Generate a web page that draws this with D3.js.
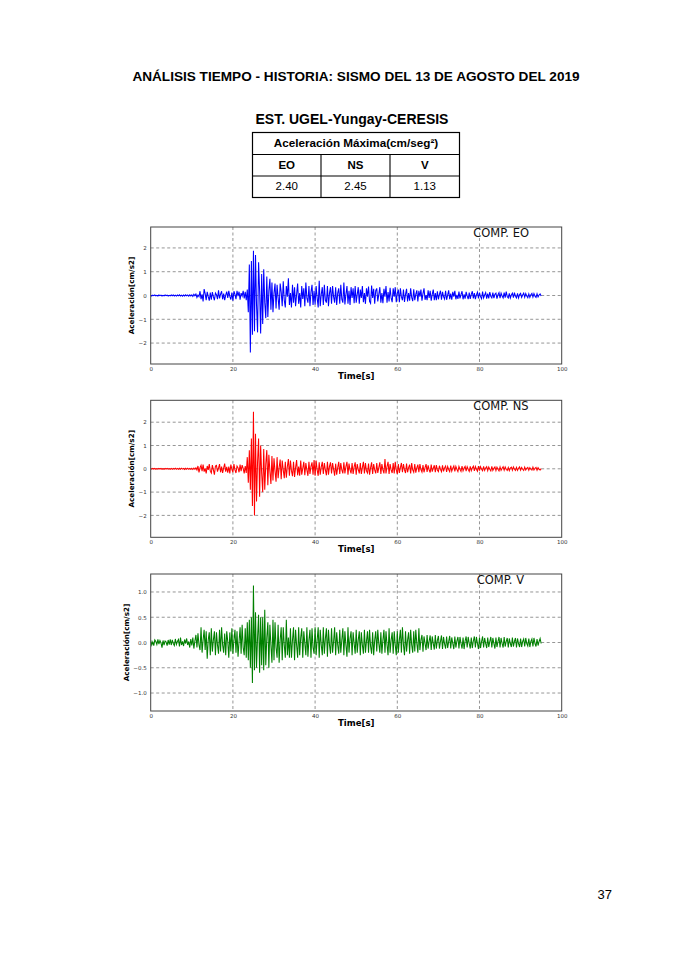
<!DOCTYPE html>
<head>
<meta charset="utf-8" />
<script src="https://d3js.org/d3.v7.min.js"></script>
<style>
    body {
        margin: 0;
        background: #fff;
    }
    svg { display: block; }
</style>
</head>

<body>
    <div id="pagina"></div>

    <script>
        // registro muestreado cada 0.25 s, de 0 a 95 s
        const dt = 0.25;
        const componentes = ["EO", "NS", "V"];
        const picos = ["2.40", "2.45", "1.13"];
        const etiquetas = ["COMP. EO", "COMP. NS", "COMP. V"];
        const colores = ["#0000ff", "#ff0000", "#008000"];
        const xTicks = [0, 20, 40, 60, 80, 100];
        const yTicksEO = [-2, -1, 0, 1, 2];
        const yTicksNS = [-2, -1, 0, 1, 2];
        const yTicksV = [-1.0, -0.5, 0.0, 0.5, 1.0];

        const acelEO = [
            0.01,-0.02,0.015,-0.01,0.02,-0.015,0.01,-0.02,0.02,-0.01,0.015,-0.02,0.01,-0.015,0.02,-0.01,0.015,-0.02,0.01,-0.015,
            0.02,-0.01,0.025,-0.02,0.015,-0.025,0.02,-0.015,0.03,-0.02,0.015,-0.03,0.02,-0.02,0.03,-0.015,0.02,-0.03,0.025,-0.02,
            0.03,-0.04,0.05,-0.01,0.06,-0.08,0.02,-0.05,0.18,-0.15,0.05,-0.25,0.27,0.08,-0.2,0.15,-0.05,-0.22,0.12,-0.18,
            0.14,-0.05,-0.2,0.1,0.03,-0.15,0.22,-0.12,0.06,0.18,-0.16,0.08,-0.2,0.02,0.16,-0.1,0.2,-0.04,-0.17,0.12,
            -0.22,0.18,0.05,-0.15,0.2,-0.03,0.16,-0.18,0.1,-0.02,0.2,-0.12,0.15,-0.2,0.25,-0.7,1.3,-2.40,1.45,-1.65,
            1.88,-1.5,1.7,-0.4,-1.55,1.4,0.2,-1.6,0.9,-1.2,1.1,-0.3,-0.95,0.8,-0.9,0.2,0.7,-0.6,0.55,-0.7,
            0.1,0.5,-0.55,0.45,-0.1,-0.6,0.5,0.15,-0.45,0.6,-0.2,-0.5,0.4,-0.05,0.72,-0.4,0.1,-0.5,0.45,-0.3,
            0.35,-0.45,0.05,0.5,-0.35,0.1,-0.5,0.4,-0.15,0.3,-0.45,0.55,-0.1,-0.3,0.4,-0.45,0.15,0.45,-0.4,0.2,
            -0.38,0.4,-0.1,-0.5,0.62,-0.45,0.05,0.35,-0.4,0.45,-0.2,-0.3,0.4,-0.45,0.1,0.35,-0.35,0.4,-0.05,-0.3,
            0.35,-0.4,0.1,0.3,-0.35,0.45,-0.15,-0.3,0.55,-0.38,0.05,0.4,-0.35,0.2,-0.4,0.35,-0.1,0.3,-0.32,0.4,
            -0.3,0.05,0.35,-0.35,0.25,-0.1,0.4,-0.28,0.1,-0.35,0.3,-0.05,0.38,-0.25,-0.33,0.42,-0.1,0.28,-0.35,0.2,
            0.3,-0.25,0.05,0.35,-0.3,0.1,-0.32,0.28,-0.05,0.4,-0.3,0.15,-0.25,0.32,-0.1,-0.28,0.3,-0.05,0.35,-0.28,
            0.1,0.25,-0.28,0.3,-0.05,-0.2,0.25,-0.27,0.05,0.28,-0.25,0.1,-0.22,0.3,-0.08,-0.24,0.26,-0.2,0.05,0.22,
            -0.25,0.2,-0.05,0.25,-0.22,0.08,0.3,-0.18,0.02,-0.2,0.22,-0.1,0.2,-0.22,0.05,0.25,-0.2,0.1,-0.2,0.18,
            -0.16,0.05,0.2,-0.18,0.15,-0.05,-0.15,0.2,-0.18,0.02,0.22,-0.15,0.08,-0.18,0.15,-0.05,0.2,-0.16,0.03,-0.14,
            0.16,-0.12,0.04,0.18,-0.16,0.05,-0.13,0.15,-0.02,-0.15,0.12,-0.14,0.05,0.18,-0.12,0.1,-0.15,0.03,0.14,-0.12,
            0.12,-0.05,-0.14,0.16,-0.1,0.02,0.12,-0.13,0.08,-0.12,0.14,-0.03,-0.1,0.12,-0.11,0.05,0.1,-0.13,0.03,0.12,
            -0.11,0.1,-0.02,-0.1,0.12,-0.09,0.16,-0.04,-0.1,0.09,-0.11,0.02,0.1,-0.09,0.12,-0.03,-0.1,0.09,-0.1,0.04,
            0.09,-0.08,0.02,0.1,-0.07,0.08,-0.02,-0.09,0.07,-0.08,0.03,0.09,-0.07,0.08,-0.03,-0.08,0.07,-0.06,0.02,0.07,
            -0.02
        ];

        const acelNS = [
            0.01,-0.015,0.02,-0.01,0.015,-0.02,0.01,-0.015,0.02,-0.01,0.015,-0.02,0.01,-0.02,0.015,-0.01,0.02,-0.015,0.01,-0.02,
            0.015,-0.02,0.02,-0.015,0.025,-0.02,0.015,-0.025,0.02,-0.02,0.025,-0.015,0.02,-0.025,0.02,-0.02,0.025,-0.02,0.015,-0.025,
            0.02,-0.03,0.03,-0.02,0.04,-0.05,0.12,-0.15,0.05,0.15,-0.1,0.18,-0.12,0.02,-0.2,0.12,-0.05,0.2,-0.1,-0.18,
            0.16,-0.05,-0.25,0.12,0.15,-0.12,0.03,0.2,-0.15,0.1,-0.18,0.04,0.22,-0.12,0.08,-0.17,0.1,-0.2,0.18,-0.02,
            -0.15,0.2,-0.05,-0.18,0.12,0.04,-0.15,0.18,-0.1,0.16,0.02,-0.2,0.12,-0.18,0.5,-0.6,0.8,-0.9,1.3,-1.6,
            2.45,-2.0,1.5,-1.4,0.3,1.3,-1.2,1.0,-0.2,-1.0,0.85,-0.9,0.2,0.8,-0.7,0.6,-0.1,-0.65,0.55,-0.5,
            0.45,-0.1,-0.55,0.5,-0.4,0.05,0.4,-0.45,0.35,-0.05,-0.4,0.3,-0.38,0.1,0.42,-0.3,0.35,-0.08,-0.32,0.3,
            -0.35,0.05,0.38,-0.28,0.1,-0.3,0.35,-0.25,0.02,0.3,-0.28,0.25,-0.05,-0.3,0.3,-0.22,0.1,0.28,-0.25,0.38,
            -0.3,0.35,-0.05,-0.3,0.28,-0.25,0.08,0.3,-0.22,0.25,-0.05,-0.28,0.3,-0.25,0.1,0.28,-0.2,0.25,-0.02,-0.3,
            0.22,-0.25,0.05,0.3,-0.22,0.25,-0.05,-0.2,0.28,-0.2,0.1,0.3,-0.25,0.22,-0.05,-0.2,0.25,-0.22,0.08,0.28,
            -0.25,0.2,-0.02,-0.2,0.25,-0.22,0.05,0.3,-0.2,0.25,-0.1,-0.18,0.22,-0.25,0.05,0.28,-0.22,0.2,-0.05,-0.2,
            0.25,-0.18,0.05,0.28,-0.22,0.2,-0.05,-0.2,0.42,-0.2,0.1,0.3,-0.22,0.2,-0.05,-0.18,0.25,-0.2,0.3,-0.05,
            -0.22,0.2,-0.18,0.05,0.25,-0.15,0.2,-0.05,-0.18,0.22,-0.15,0.05,0.18,-0.2,0.25,-0.05,-0.15,0.2,-0.17,0.04,
            0.18,-0.15,0.2,-0.03,-0.14,0.16,-0.15,0.05,0.2,-0.13,0.15,-0.04,-0.16,0.18,-0.12,0.03,0.15,-0.14,0.16,-0.05,
            -0.12,0.13,-0.02,-0.12,0.15,-0.11,0.04,0.12,-0.13,0.1,-0.03,-0.12,0.14,-0.1,0.03,0.12,-0.11,0.1,-0.02,-0.12,
            0.1,-0.02,-0.11,0.12,-0.09,0.03,0.1,-0.1,0.09,-0.02,-0.11,0.1,-0.08,0.04,0.11,-0.09,0.1,-0.02,-0.1,0.12,
            -0.08,0.09,-0.02,-0.08,0.1,-0.07,0.03,0.09,-0.08,0.08,-0.02,-0.09,0.1,-0.07,0.02,0.08,-0.08,0.07,-0.02,-0.09,
            0.08,-0.07,0.02,0.09,-0.06,0.08,-0.02,-0.07,0.06,-0.08,0.03,0.07,-0.06,0.08,-0.02,-0.07,0.06,-0.07,0.02,0.08,
            -0.06,0.06,-0.02,-0.07,0.07,-0.05,0.02,0.06,-0.06,0.05,-0.02,-0.06,0.07,-0.05,0.02,0.06,-0.06,0.05,-0.02,-0.05,
            0.01
        ];

        const acelV = [
            0.04,-0.05,0.01,-0.06,0.05,0.02,-0.04,0.06,-0.03,0.04,-0.01,-0.1,0.04,-0.05,0.03,0.01,-0.06,0.05,-0.04,0.06,
            -0.05,0.05,-0.02,-0.06,0.07,-0.04,0.02,0.06,-0.08,0.1,-0.05,0.02,-0.07,0.06,-0.02,0.08,-0.05,0.02,-0.1,0.07,
            -0.06,0.1,-0.12,0.03,0.15,-0.1,0.18,-0.05,-0.15,0.3,-0.2,0.05,0.25,-0.15,0.22,-0.32,0.05,0.2,-0.25,0.28,
            -0.18,0.05,0.22,-0.25,0.2,-0.05,-0.22,0.25,-0.18,0.3,-0.05,-0.2,0.18,-0.25,0.22,0.02,-0.3,0.2,-0.18,0.28,
            -0.22,0.05,0.25,-0.2,0.22,-0.28,0.02,0.3,-0.22,0.35,-0.1,-0.25,0.28,-0.3,0.4,-0.35,0.45,-0.5,0.5,-0.8,
            1.13,-0.55,0.6,-0.5,0.1,0.55,-0.6,0.5,-0.45,0.5,-0.55,0.65,-0.45,0.1,0.4,-0.5,0.35,-0.05,-0.4,0.45,
            -0.35,0.4,-0.1,-0.3,0.35,-0.4,0.05,0.3,-0.35,0.3,-0.05,-0.3,0.45,-0.25,0.1,-0.3,0.28,-0.3,0.05,0.3,
            -0.35,0.25,-0.05,-0.3,0.3,-0.25,0.1,0.28,-0.3,0.22,-0.02,-0.25,0.3,-0.28,0.05,0.25,-0.3,0.28,-0.1,-0.22,
            0.3,-0.25,0.05,0.3,-0.3,0.25,-0.05,-0.25,0.3,-0.22,0.08,0.28,-0.28,0.25,-0.05,-0.22,0.28,-0.2,0.02,0.3,
            -0.25,0.2,-0.05,-0.22,0.25,-0.2,0.05,0.28,-0.25,0.22,-0.05,-0.28,0.3,-0.2,0.08,0.22,-0.25,0.2,-0.02,-0.22,
            0.25,-0.2,0.05,0.22,-0.25,0.2,-0.05,-0.22,0.25,-0.2,0.03,0.22,-0.2,0.25,-0.08,-0.22,0.2,-0.25,0.05,0.22,
            -0.18,0.25,-0.02,-0.2,0.2,-0.22,0.05,0.25,-0.2,0.22,-0.05,-0.25,0.28,-0.2,0.05,0.2,-0.22,0.22,-0.05,-0.25,
            0.22,-0.2,0.05,0.25,-0.2,0.3,-0.05,-0.25,0.22,-0.18,0.05,0.2,-0.22,0.25,-0.05,-0.2,0.22,-0.18,0.25,-0.02,
            -0.2,0.28,-0.15,0.05,0.15,-0.18,0.12,-0.02,-0.15,0.15,-0.12,0.03,0.14,-0.15,0.12,-0.02,-0.14,0.15,-0.12,0.04,
            0.13,-0.12,0.02,0.14,-0.13,0.11,-0.03,-0.12,0.12,-0.11,0.02,0.13,-0.12,0.1,-0.02,-0.13,0.12,-0.1,0.03,0.11,
            -0.12,0.11,-0.02,-0.12,0.1,-0.13,0.03,0.12,-0.1,0.11,-0.02,-0.12,0.1,-0.11,0.03,0.12,-0.1,0.11,-0.02,-0.13,
            0.1,-0.11,0.02,0.12,-0.1,0.09,-0.02,-0.11,0.1,-0.09,0.02,0.11,-0.1,0.09,-0.02,-0.12,0.1,-0.09,0.02,0.11,
            -0.1,0.09,-0.02,-0.1,0.11,-0.08,0.02,0.09,-0.1,0.08,-0.02,-0.09,0.1,-0.08,0.02,0.09,-0.1,0.08,-0.02,-0.09,
            0.08,-0.09,0.02,0.07,-0.08,0.09,-0.02,-0.07,0.08,-0.09,0.02,0.07,-0.08,0.09,-0.02,-0.08,0.07,-0.06,0.02,0.08,
            -0.02
        ];

        const series = [acelEO, acelNS, acelV];
        const yTicks = [yTicksEO, yTicksNS, yTicksV];

        const width = 679, height = 960;

        var svg = d3.select("#pagina")
            .append("svg")
            .attr("width", width)
            .attr("height", height);

        svg.append("rect").attr("width", width).attr("height", height).attr("fill", "#fff");

        // titulos
        svg.append("text")
            .attr("x", 356).attr("y", 81)
            .attr("text-anchor", "middle")
            .style("font-family", "'Liberation Sans', Arial, sans-serif")
            .style("font-weight", "bold")
            .style("font-size", "13.6px")
            .text("ANÁLISIS TIEMPO - HISTORIA: SISMO DEL 13 DE AGOSTO DEL 2019");

        svg.append("text")
            .attr("x", 352).attr("y", 124)
            .attr("text-anchor", "middle")
            .style("font-family", "'Liberation Sans', Arial, sans-serif")
            .style("font-weight", "bold")
            .style("font-size", "14px")
            .text("EST. UGEL-Yungay-CERESIS");

        // tabla de aceleraciones maximas
        var tx0 = 252.5, tx1 = 459.5;
        var filas = [132.5, 154.5, 176, 197.5];
        var cols = [tx0, 321, 390, tx1];
        var tabla = svg.append("g")
            .style("font-family", "'Liberation Sans', Arial, sans-serif")
            .style("font-size", "11.5px");

        tabla.append("rect")
            .attr("x", tx0).attr("y", filas[0])
            .attr("width", tx1 - tx0).attr("height", filas[3] - filas[0])
            .attr("fill", "none").attr("stroke", "#000").attr("stroke-width", 1.2);
        [filas[1], filas[2]].forEach(function(y) {
            tabla.append("line").attr("x1", tx0).attr("x2", tx1).attr("y1", y).attr("y2", y)
                .attr("stroke", "#000").attr("stroke-width", 1.1);
        });
        [cols[1], cols[2]].forEach(function(x) {
            tabla.append("line").attr("x1", x).attr("x2", x).attr("y1", filas[1]).attr("y2", filas[3])
                .attr("stroke", "#000").attr("stroke-width", 1.1);
        });
        tabla.append("text")
            .attr("x", (tx0 + tx1) / 2).attr("y", 147)
            .attr("text-anchor", "middle")
            .style("font-weight", "bold")
            .style("font-size", "11.7px")
            .text("Aceleración Máxima(cm/seg²)");
        componentes.forEach(function(c, i) {
            tabla.append("text")
                .attr("x", (cols[i] + cols[i + 1]) / 2).attr("y", 168.8)
                .attr("text-anchor", "middle")
                .style("font-weight", "bold")
                .text(c);
            tabla.append("text")
                .attr("x", (cols[i] + cols[i + 1]) / 2).attr("y", 190.3)
                .attr("text-anchor", "middle")
                .text(picos[i]);
        });

        // graficos
        var px0 = 150.7, pw = 411, ph = 137;
        var tops = [227, 400.3, 574];

        var x = d3.scaleLinear().domain([0, 100]).range([0, pw]);

        series.forEach(function(datos, i) {
            var g = svg.append("g").attr("transform", "translate(" + px0 + "," + tops[i] + ")");
            var lim = d3.max(datos, function(d) { return Math.abs(d); }) * 1.2;
            var y = d3.scaleLinear().domain([-lim, lim]).range([ph, 0]);
            var fmt = i === 2 ? d3.format(".1f") : d3.format("d");

            g.append("clipPath").attr("id", "clip" + i)
                .append("rect").attr("width", pw).attr("height", ph);

            // rejilla
            g.append("g").selectAll("line")
                .data(xTicks.slice(1, -1))
                .join("line")
                .attr("x1", function(d) { return x(d); })
                .attr("x2", function(d) { return x(d); })
                .attr("y1", 0).attr("y2", ph)
                .attr("stroke", "#8a8a8a").attr("stroke-width", 0.9)
                .attr("stroke-dasharray", "3,2.5");
            g.append("g").selectAll("line")
                .data(yTicks[i])
                .join("line")
                .attr("x1", 0).attr("x2", pw)
                .attr("y1", function(d) { return y(d); })
                .attr("y2", function(d) { return y(d); })
                .attr("stroke", "#8a8a8a").attr("stroke-width", 0.9)
                .attr("stroke-dasharray", "3,2.5");

            // registro
            var linea = d3.line()
                .x(function(d, k) { return x(k * dt); })
                .y(function(d) { return y(d); });
            g.append("path")
                .datum(datos)
                .attr("clip-path", "url(#clip" + i + ")")
                .attr("d", linea)
                .attr("fill", "none")
                .attr("stroke", colores[i])
                .attr("stroke-width", 1.05);

            g.append("rect")
                .attr("width", pw).attr("height", ph)
                .attr("fill", "none").attr("stroke", "#444").attr("stroke-width", 1);

            // etiquetas de ejes
            var ax = g.append("g").attr("transform", "translate(0," + ph + ")")
                .call(d3.axisBottom(x).tickValues(xTicks).tickSize(0).tickPadding(3).tickFormat(d3.format("d")));
            var ay = g.append("g")
                .call(d3.axisLeft(y).tickValues(yTicks[i]).tickSize(0).tickPadding(4).tickFormat(fmt));
            [ax, ay].forEach(function(a) {
                a.select(".domain").remove();
                a.selectAll("text")
                    .style("font-family", "'DejaVu Sans', sans-serif")
                    .style("font-size", "5.5px")
                    .attr("fill", "#333");
            });

            g.append("text")
                .attr("x", pw / 2).attr("y", ph + 15)
                .attr("text-anchor", "middle")
                .style("font-family", "'DejaVu Sans', sans-serif")
                .style("font-weight", "bold")
                .style("font-size", "8.6px")
                .text("Time[s]");

            g.append("text")
                .attr("transform", "translate(" + (i === 2 ? -22 : -16.5) + "," + (ph / 2) + ") rotate(-90)")
                .attr("text-anchor", "middle")
                .style("font-family", "'DejaVu Sans', sans-serif")
                .style("font-weight", "bold")
                .style("font-size", "7.2px")
                .text("Aceleración[cm/s2]");

            g.append("text")
                .attr("x", i === 2 ? 326 : 322.5).attr("y", 10)
                .style("font-family", "'DejaVu Sans', sans-serif")
                .style("font-size", "11.5px")
                .attr("fill", "#111")
                .text(etiquetas[i]);
        });

        svg.append("text")
            .attr("x", 612).attr("y", 899)
            .attr("text-anchor", "end")
            .style("font-family", "'Liberation Sans', Arial, sans-serif")
            .style("font-size", "13px")
            .text("37");
    </script>
</body>
